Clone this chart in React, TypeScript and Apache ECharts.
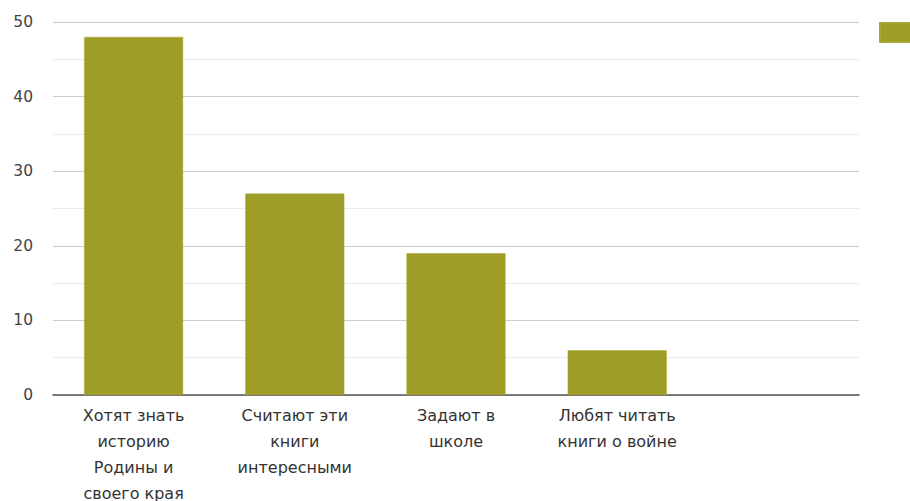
import React, { useEffect, useRef } from "react";
import * as echarts from "echarts";

const categories = [
  "Хотят знать\nисторию\nРодины и\nсвоего края",
  "Считают эти\nкниги\nинтересными",
  "Задают в\nшколе",
  "Любят читать\nкниги о войне",
  "",
];
const values: (number | null)[] = [48, 27, 19, 6, null];
const seriesName = "Ряд 1";

const FONT = "DejaVu Sans, Liberation Sans, Arial, sans-serif";

export default function App() {
  const ref = useRef<HTMLDivElement>(null);
  useEffect(() => {
    if (!ref.current) return;
    const chart = echarts.init(ref.current, null, { renderer: "svg" });
    chart.setOption({
      animation: false,
      backgroundColor: "#ffffff",
      textStyle: { fontFamily: FONT },
      legend: {
        left: 879,
        top: 22,
        padding: 0,
        itemWidth: 34,
        itemHeight: 19,
        itemGap: 0,
        formatter: () => "",
        data: [{ name: seriesName, icon: "rect" }],
        selectedMode: false,
      },
      grid: {
        left: 53,
        right: 51,
        top: 22,
        bottom: 106,
        containLabel: false,
        outerBoundsMode: "none",
      },
      xAxis: {
        type: "category",
        data: categories,
        axisTick: { show: false },
        axisLine: { lineStyle: { color: "#555555", width: 1.5 } },
        axisLabel: {
          interval: 0,
          margin: 7,
          fontSize: 16,
          lineHeight: 26,
          color: "#333333",
          fontFamily: FONT,
        },
      },
      yAxis: {
        type: "value",
        min: 0,
        max: 50,
        interval: 10,
        axisLine: { show: false },
        axisTick: { show: false },
        axisLabel: {
          margin: 20,
          fontSize: 15.5,
          color: "#444444",
          fontFamily: FONT,
        },
        splitLine: { lineStyle: { color: "#cccccc", width: 1 } },
        minorTick: { show: false, splitNumber: 2 },
        minorSplitLine: { show: true, lineStyle: { color: "#ebebeb", width: 1 } },
      },
      series: [
        {
          name: seriesName,
          type: "bar",
          data: values,
          barWidth: 99,
          itemStyle: { color: "#9d9d27", borderColor: "#a8a838", borderWidth: 0.5 },
        },
      ],
    });
    return () => chart.dispose();
  }, []);
  return (
    <div
      ref={ref}
      style={{ position: "absolute", left: 0, top: 0, width: 910, height: 501 }}
    />
  );
}
